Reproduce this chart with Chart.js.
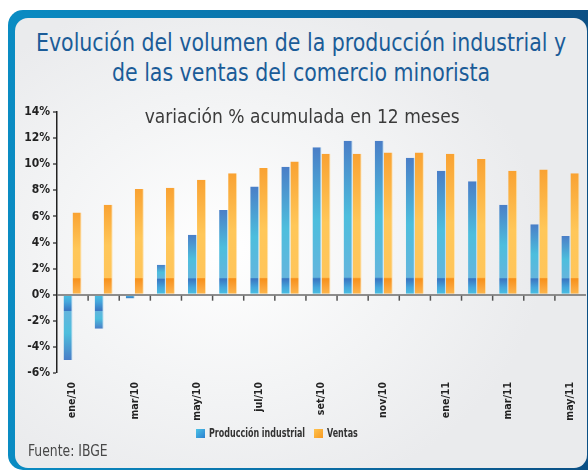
<!DOCTYPE html>
<html>
<head>
<meta charset="utf-8">
<script src="https://cdn.jsdelivr.net/npm/chart.js@4"></script>
<style>
  html, body { margin: 0; padding: 0; background: #fff; }
  body { width: 588px; height: 471px; position: relative; overflow: hidden;
         font-family: 'Liberation Sans Narrow', 'DejaVu Sans Condensed', 'Roboto Condensed', sans-serif; }
  #frame { position: absolute; left: 8px; top: 10px; width: 600px; height: 460px; border-radius: 15px;
           background: linear-gradient(90deg, #0a8cc3 0%, #0a6ea6 50%, #0b4d82 100%); }
  #panel { position: absolute; left: 15px; top: 18px; width: 572px; height: 450px; border-radius: 13px;
           background: radial-gradient(ellipse 320px 260px at 210px 230px, #ffffff 0%, #f3f4f5 55%, #eaebed 100%); }
  #title { position: absolute; left: 15px; width: 572px; top: 28px; text-align: center;
           font-size: 24px; line-height: 30px; color: #1b5c98; transform: scaleX(0.95); transform-origin: 287px 0; }
  #subtitle { position: absolute; left: 15px; width: 574px; top: 104px; text-align: center;
              font-size: 20px; line-height: 24px; color: #3b3b3b; transform: scaleX(0.95); transform-origin: 290px 0; }
  #chart { position: absolute; left: 0; top: 0; }
  .lg { position: absolute; top: 426px; font-size: 12px; font-weight: bold; color: #333; line-height: 14px;
        white-space: nowrap; transform: scaleX(0.74); transform-origin: 0 0; }
  .box { position: absolute; top: 429px; width: 9px; height: 9px; }
  #source { position: absolute; left: 28px; top: 441px; font-size: 16px; line-height: 20px; color: #484848;
            transform: scaleX(0.86); transform-origin: 0 0; }
</style>
</head>
<body>
<div id="frame"></div>
<div id="panel"></div>
<div id="title">Evolución del volumen de la producción industrial y<br>de las ventas del comercio minorista</div>
<canvas id="chart" width="588" height="471"></canvas>
<div id="subtitle">variación % acumulada en 12 meses</div>
<div class="box" style="left:196px;background:linear-gradient(135deg,#4cc3e6,#2a7fd0)"></div>
<div class="lg" style="left:209px">Producción industrial</div>
<div class="box" style="left:314px;background:linear-gradient(135deg,#ffc24e,#f79a22)"></div>
<div class="lg" style="left:327px">Ventas</div>
<div id="source">Fuente: IBGE</div>
<script>
// --- Daten ---
const meses = ['ene/10', 'feb/10', 'mar/10', 'abr/10', 'may/10', 'jun/10', 'jul/10', 'ago/10', 'set/10',
               'oct/10', 'nov/10', 'dic/10', 'ene/11', 'feb/11', 'mar/11', 'abr/11', 'may/11'];
const produccion = [-5.0, -2.6, -0.3, 2.3, 4.6, 6.5, 8.3, 9.8, 11.3, 11.8, 11.8, 10.5, 9.5, 8.7, 6.9, 5.4, 4.5];
const ventas = [6.3, 6.9, 8.1, 8.2, 8.8, 9.3, 9.7, 10.2, 10.8, 10.8, 10.9, 10.9, 10.8, 10.4, 9.5, 9.6, 9.3];
const yTicks = [-6, -4, -2, 0, 2, 4, 6, 8, 10, 12, 14];

const FONT = "'Liberation Sans Narrow', 'DejaVu Sans Condensed', 'Roboto Condensed', sans-serif";

// Farbverlauf pro Balken (Glanz-Streifen nahe der Nulllinie)
function barGradient(context, pal) {
    const chart = context.chart;
    const v = context.raw;
    if (!chart.chartArea || v === undefined) return pal.top;
    const y = chart.scales.y;
    const y0 = y.getPixelForValue(0);
    const y1 = y.getPixelForValue(v);
    const len = Math.abs(y1 - y0) || 1;
    const f = Math.min(0.9, 16 / len);
    const g = chart.ctx.createLinearGradient(0, y0, 0, y1);
    g.addColorStop(0, pal.base);
    g.addColorStop(f * 0.45, pal.bandLow);
    g.addColorStop(f * 0.95, pal.band);
    g.addColorStop(f, pal.band);
    g.addColorStop(Math.min(1, f + 0.01), pal.low);
    g.addColorStop(f + (1 - f) * 0.45, pal.mid);
    g.addColorStop(1, pal.top);
    return g;
}

const bluePal = { base: '#48c2e2', bandLow: '#45a6dc', band: '#3a79c3', low: '#64b5dd', mid: '#4dbedd', top: '#4a7ec7' };
const orangePal = { base: '#fdb84c', bandLow: '#fba53a', band: '#f7921e', low: '#ffc55a', mid: '#ffc759', top: '#f9a232' };

// Kleine Striche an den Kategoriegrenzen auf der Nulllinie
const zeroTicks = {
    id: 'zeroTicks',
    afterDatasetsDraw(chart) {
        const x = chart.scales.x;
        const y0 = chart.scales.y.getPixelForValue(0);
        const c = chart.ctx;
        c.save();
        c.strokeStyle = '#555';
        c.lineWidth = 1.5;
        for (let i = 1; i < meses.length; i++) {
            const px = (x.getPixelForValue(i - 1) + x.getPixelForValue(i)) / 2;
            c.beginPath();
            c.moveTo(px, y0 + 1);
            c.lineTo(px, y0 + 6);
            c.stroke();
        }
        c.restore();
    }
};

new Chart(document.getElementById('chart'), {
    type: 'bar',
    data: {
        labels: meses,
        datasets: [
            {
                label: 'Producción industrial',
                data: produccion,
                backgroundColor: (ctx) => barGradient(ctx, bluePal),
                borderWidth: { left: 0, top: 0, bottom: 0, right: 1 },
                borderColor: 'rgba(170,215,240,0.8)',
                borderSkipped: false,
                categoryPercentage: 0.58,
                barPercentage: 1.0
            },
            {
                label: 'Ventas',
                data: ventas,
                backgroundColor: (ctx) => barGradient(ctx, orangePal),
                borderWidth: { left: 0, top: 0, bottom: 0, right: 1 },
                borderColor: 'rgba(255,225,170,0.9)',
                borderSkipped: false,
                categoryPercentage: 0.58,
                barPercentage: 1.0
            }
        ]
    },
    options: {
        responsive: false,
        animation: false,
        layout: { padding: { top: 112, right: 2, left: 0, bottom: 0 } },
        plugins: {
            legend: { display: false },
            tooltip: { enabled: false }
        },
        scales: {
            x: {
                grid: { display: false },
                border: { display: false },
                afterFit: (scale) => { scale.height = 98; },
                ticks: {
                    autoSkip: false,
                    minRotation: 90,
                    maxRotation: 90,
                    padding: 1,
                    color: '#222',
                    font: { family: FONT, size: 10.5, weight: 'bold' },
                    callback: (val, i) => (i % 2 === 0 ? meses[i] : '')
                }
            },
            y: {
                min: -6,
                max: 14,
                afterFit: (scale) => { scale.width = 57; },
                afterBuildTicks: (scale) => { scale.ticks = yTicks.map(v => ({ value: v })); },
                border: { display: true, color: '#222', width: 1.5 },
                grid: {
                    drawOnChartArea: true,
                    color: (ctx) => (ctx.tick && ctx.tick.value === 0 ? '#8d8d8d' : 'rgba(0,0,0,0)'),
                    lineWidth: (ctx) => (ctx.tick && ctx.tick.value === 0 ? 2 : 0),
                    tickColor: '#222',
                    tickWidth: 1.2,
                    tickLength: 4
                },
                ticks: {
                    padding: 3,
                    color: '#222',
                    font: { family: FONT, size: 12, weight: 'bold' },
                    callback: (v) => v + '%'
                }
            }
        }
    },
    plugins: [zeroTicks]
});
</script>
</body>
</html>
